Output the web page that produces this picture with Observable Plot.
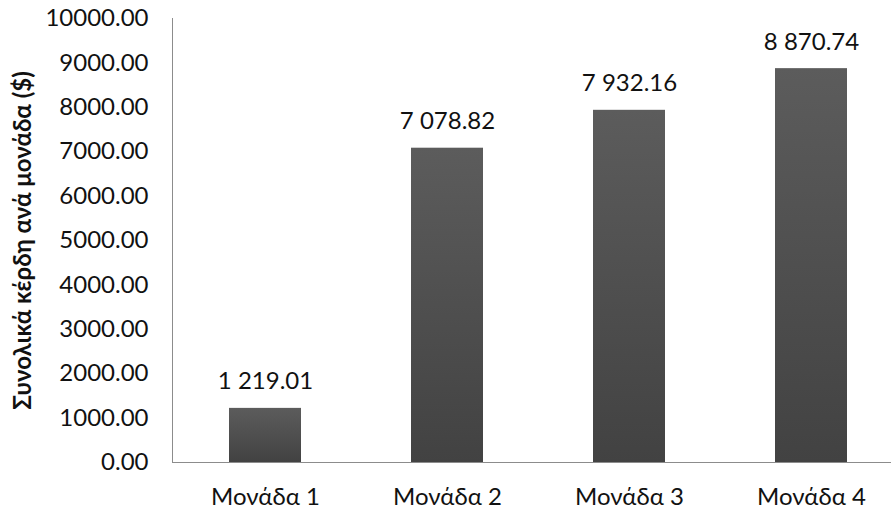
<!DOCTYPE html>
<html>
<head>
<meta charset="utf-8">
<script src="https://cdn.jsdelivr.net/npm/d3@7"></script>
<script src="https://cdn.jsdelivr.net/npm/@observablehq/plot@0.6"></script>
<style>
  html, body { margin: 0; padding: 0; background: #fff; }
</style>
</head>
<body>
<div id="chart"></div>
<script>
const categories = ["Μονάδα 1", "Μονάδα 2", "Μονάδα 3", "Μονάδα 4"];
const values = [1219.01, 7078.82, 7932.16, 8870.74];
const yTicks = [0, 1000, 2000, 3000, 4000, 5000, 6000, 7000, 8000, 9000, 10000];
const yTitle = "Συνολικά κέρδη ανά μονάδα ($)";

const data = categories.map((c, i) => ({cat: c, value: values[i]}));
const locale = d3.formatLocale({decimal: ".", thousands: " ", grouping: [3], currency: ["$", ""]});
const fmtLabel = locale.format(",.2f");
const fmtTick = d3.format(".2f");

const svg = Plot.plot({
  width: 891,
  height: 510,
  marginLeft: 172,
  marginRight: 0,
  marginTop: 18,
  marginBottom: 48,
  style: {fontFamily: "Lato, 'Open Sans', sans-serif", fontSize: "24px", color: "#111", background: "#fff"},
  x: {domain: categories, range: [172, 903], paddingInner: 0.606, paddingOuter: 0.303, label: null},
  y: {domain: [0, 10000], label: null},
  marks: [
    Plot.barY(data, {x: "cat", y: "value", fill: "url(#barGrad)", style: {filter: "url(#barShadow)"}}),
    Plot.text(data, {x: "cat", y: "value", text: d => fmtLabel(d.value), lineAnchor: "bottom", dy: -19, fill: "#111", fontSize: 24}),
    Plot.axisY({ticks: yTicks, tickFormat: fmtTick, tickSize: 0, tickPadding: 24, label: null, fontSize: 24, fill: "#111"}),
    Plot.axisX({tickSize: 0, tickPadding: 25, label: null, fontSize: 24, fill: "#111"}),
    Plot.frame({anchor: "left", stroke: "#8c8c8c", strokeOpacity: 1}),
    Plot.frame({anchor: "bottom", stroke: "#8c8c8c", strokeOpacity: 1}),
    Plot.text([yTitle], {frameAnchor: "left", rotate: -90, dx: -149, fontWeight: "bold", fontSize: 24, fill: "#111", textAnchor: "middle"})
  ]
});

d3.select(svg).insert("defs", ":first-child").html(`
  <linearGradient id="barGrad" x1="0" y1="0" x2="0" y2="1">
    <stop offset="0%" stop-color="#5c5c5c"/>
    <stop offset="100%" stop-color="#424242"/>
  </linearGradient>
  <filter id="barShadow" x="-10%" y="-10%" width="130%" height="130%">
    <feDropShadow dx="1" dy="1" stdDeviation="1" flood-color="#000" flood-opacity="0.25"/>
  </filter>
`);

document.getElementById("chart").appendChild(svg);
</script>
</body>
</html>
